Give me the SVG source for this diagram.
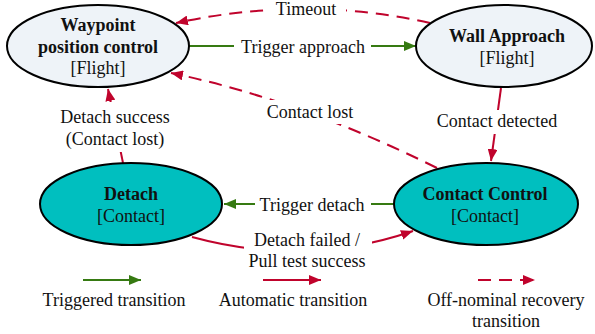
<svg xmlns="http://www.w3.org/2000/svg" width="595" height="334" viewBox="0 0 595 334">
<style>
text{font-family:'Liberation Serif','Times New Roman',serif;font-size:18px;fill:#111;text-anchor:middle}
.b{font-weight:bold}
.flight{fill:#eef3f8;stroke:#000;stroke-width:2}
.contact{fill:#00bfbf;stroke:#000;stroke-width:2}
.g{fill:none;stroke:#367a12;stroke-width:2}
.r{fill:none;stroke:#c0032c;stroke-width:2}
.d{stroke-dasharray:13 8}
.bg{fill:#fff}
</style>
<defs>
<marker id="ag" markerUnits="userSpaceOnUse" markerWidth="12" markerHeight="10" viewBox="0 0 12 10" refX="12" refY="5" orient="auto"><path d="M0,0L12,5L0,10z" fill="#367a12"/></marker>
<marker id="ar" markerUnits="userSpaceOnUse" markerWidth="12" markerHeight="10" viewBox="0 0 12 10" refX="12" refY="5" orient="auto"><path d="M0,0L12,5L0,10z" fill="#c0032c"/></marker>
</defs>
<g id="connectors">
<path class="r d" d="M430,23 Q305,-5 176,23" marker-end="url(#ar)"/>
<path class="g" d="M189,46 L416,46" marker-end="url(#ag)"/>
<path class="r d" d="M437,168 Q300,100 171,73" marker-end="url(#ar)"/>
<path class="r" d="M501,88 L491,161" marker-end="url(#ar)"/>
<path class="g" d="M394,204 L224,204" marker-end="url(#ag)"/>
<path class="r" d="M192,237 Q305,268 413,231" marker-end="url(#ar)"/>
<path class="r" d="M123,163 L108,89" marker-end="url(#ar)"/>
<g id="labels">
<rect class="bg" x="266" y="0" width="80" height="20"/><text x="306" y="15">Timeout</text>
<rect class="bg" x="234" y="36" width="137" height="22"/><text x="303" y="53">Trigger approach</text>
<rect class="bg" x="260" y="100" width="100" height="24"/><text x="310" y="118">Contact lost</text>
<rect class="bg" x="432" y="110" width="130" height="24"/><text x="497" y="127">Contact detected</text>
<rect class="bg" x="255" y="194" width="116" height="22"/><text x="312" y="211">Trigger detach</text>
<rect class="bg" x="244" y="230" width="128" height="42"/><text x="307" y="246">Detach failed /</text><text x="307" y="267">Pull test success</text>
<rect class="bg" x="56" y="102" width="118" height="50"/><text x="115" y="123">Detach success</text><text x="115" y="145">(Contact lost)</text>
</g>
</g>
<g id="waypoint"><ellipse class="flight" cx="98" cy="46" rx="91" ry="41"/><text class="b" x="98" y="31">Waypoint</text><text class="b" x="98" y="53">position control</text><text x="98" y="74">[Flight]</text></g>
<g id="wall"><ellipse class="flight" cx="504" cy="46" rx="88" ry="41"/><text class="b" x="507" y="42">Wall Approach</text><text x="507" y="64">[Flight]</text></g>
<g id="detach"><ellipse class="contact" cx="131" cy="204" rx="91" ry="41"/><text class="b" x="131" y="200">Detach</text><text x="131" y="222">[Contact]</text></g>
<g id="contactcontrol"><ellipse class="contact" cx="486" cy="204" rx="92" ry="41"/><text class="b" x="485" y="200">Contact Control</text><text x="485" y="222">[Contact]</text></g>
<g id="legend">
<path class="g" d="M83,280 L141,280" marker-end="url(#ag)"/><text x="114" y="306">Triggered transition</text>
<path class="r" d="M263,280 L321,280" marker-end="url(#ar)"/><text x="293" y="306">Automatic transition</text>
<path class="r d" d="M478,280 L535,280" marker-end="url(#ar)"/><text x="506" y="306">Off-nominal recovery</text><text x="506" y="327">transition</text>
</g>
</svg>
